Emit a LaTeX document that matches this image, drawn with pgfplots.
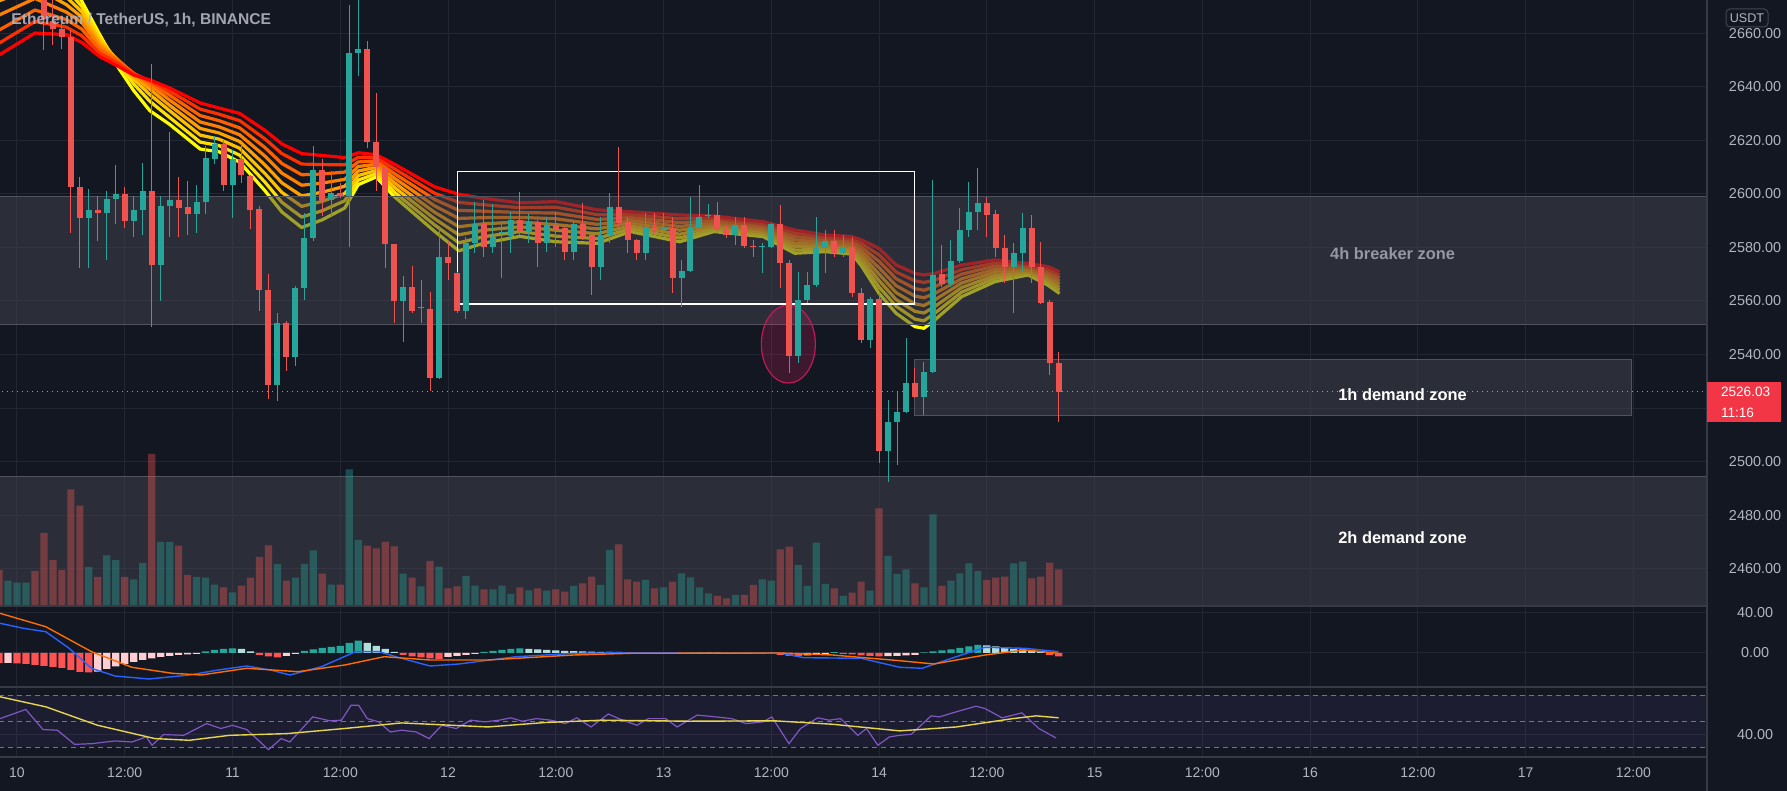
\documentclass[border=0pt]{standalone}
\usepackage{fontspec}
\setmainfont{Liberation Sans}
\usepackage{pgfplots}
\usepackage{pgfplotstable}
\pgfplotsset{compat=1.18}

\definecolor{bg}{HTML}{131722}
\definecolor{gridc}{HTML}{232734}
\definecolor{sepc}{HTML}{363A45}
\definecolor{zonec}{HTML}{434651}
\definecolor{zoneedge}{HTML}{50535E}
\definecolor{axtxt}{HTML}{B2B5BE}
\definecolor{zt4}{HTML}{9598A1}
\definecolor{cup}{HTML}{26A69A}
\definecolor{cdn}{HTML}{EF5350}
\definecolor{hupf}{HTML}{B2DFDB}
\definecolor{hdn}{HTML}{FF5252}
\definecolor{hdnf}{HTML}{FFCDD2}
\definecolor{macdc}{HTML}{2962FF}
\definecolor{sigc}{HTML}{FF6D00}
\definecolor{rsic}{HTML}{7E57C2}
\definecolor{rsima}{HTML}{E6D64D}
\definecolor{ellc}{HTML}{E91E63}
\definecolor{ellb}{HTML}{C2185B}
\definecolor{tvred}{HTML}{F23645}
\definecolor{r1}{HTML}{FFFF00}
\definecolor{r2}{HTML}{FFE000}
\definecolor{r3}{HTML}{FFC000}
\definecolor{r4}{HTML}{FFA000}
\definecolor{r5}{HTML}{FF8000}
\definecolor{r6}{HTML}{FF6000}
\definecolor{r7}{HTML}{FF3000}
\definecolor{r8}{HTML}{FF0000}

% candles: hour index (0 = day 10, 00:00), open high low close
\pgfplotstableread{
t o h l c
8 2591.0 2601.9 2572.2 2593.9
10 2592.8 2601.2 2575.1 2598.0
11 2598.0 2610.6 2588.9 2599.8
13 2590.0 2599.0 2583.8 2593.9
14 2593.9 2611.4 2584.5 2600.9
16 2573.6 2599.0 2559.8 2595.4
17 2595.4 2623.0 2583.8 2597.6
20 2592.5 2603.4 2585.2 2596.8
21 2596.8 2617.9 2592.5 2613.5
22 2613.1 2621.5 2611.0 2618.6
24 2603.4 2616.4 2591.0 2612.8
29 2528.6 2555.5 2522.8 2551.8
31 2539.1 2565.6 2535.9 2564.9
32 2564.9 2592.8 2560.5 2583.5
33 2583.5 2617.9 2582.3 2608.9
35 2597.6 2608.5 2591.8 2600.2
37 2599.0 2670.6 2580.1 2652.7
38 2652.7 2676.0 2644.0 2653.9
43 2559.8 2569.3 2544.6 2565.2
45 2557.2 2567.8 2551.8 2557.8
47 2531.2 2588.1 2530.8 2576.5
50 2556.2 2583.8 2553.3 2581.6
51 2581.6 2596.8 2578.0 2588.9
53 2580.1 2596.1 2578.0 2583.8
54 2585.2 2589.6 2568.5 2585.6
55 2584.1 2593.2 2578.0 2590.3
57 2586.0 2592.5 2581.6 2589.6
59 2581.5 2591.4 2578.4 2588.3
62 2578.4 2589.6 2575.3 2588.7
65 2572.8 2591.5 2567.8 2584.6
66 2584.6 2600.2 2581.5 2594.9
70 2578.0 2592.7 2575.3 2587.7
72 2586.5 2592.7 2585.2 2587.1
74 2568.4 2575.3 2557.9 2571.3
75 2571.3 2598.9 2570.9 2587.1
76 2587.1 2603.3 2586.5 2591.5
77 2591.6 2596.2 2590.8 2592.0
80 2584.6 2591.5 2580.9 2588.3
83 2580.2 2581.5 2570.3 2580.6
84 2580.3 2589.0 2579.6 2588.7
87 2539.4 2570.9 2536.7 2560.3
88 2560.3 2570.9 2559.1 2565.9
89 2565.9 2591.4 2565.3 2579.6
90 2579.6 2586.5 2570.3 2582.5
92 2577.8 2584.6 2576.5 2580.3
95 2545.4 2561.6 2542.3 2560.6
97 2504.1 2523.0 2492.5 2514.9
98 2514.9 2526.1 2498.8 2518.7
99 2518.7 2546.0 2518.0 2529.5
101 2524.3 2537.3 2517.4 2533.6
102 2533.6 2605.1 2533.0 2569.7
104 2566.3 2582.7 2565.3 2575.0
105 2575.0 2594.6 2574.0 2586.5
106 2586.5 2604.5 2584.0 2593.3
107 2593.3 2609.5 2586.5 2596.7
111 2572.8 2581.5 2555.4 2577.8
112 2577.8 2592.7 2570.9 2587.1
}\candup

\pgfplotstableread{
t o h l c
3 2678.0 2682.0 2653.5 2665.1
4 2664.4 2674.0 2655.6 2661.5
5 2661.5 2663.6 2654.2 2658.5
6 2658.5 2661.0 2585.2 2602.6
7 2602.6 2606.3 2572.2 2591.0
9 2593.9 2599.0 2582.3 2592.9
12 2599.8 2602.6 2587.4 2590.0
15 2600.9 2648.4 2550.4 2573.6
18 2597.6 2606.3 2583.8 2594.7
19 2595.1 2604.8 2584.5 2592.5
23 2618.6 2620.1 2601.2 2603.4
25 2612.8 2618.6 2604.1 2607.0
26 2606.7 2607.0 2586.7 2593.9
27 2594.4 2595.4 2556.2 2564.2
28 2564.2 2570.0 2523.5 2528.6
30 2551.8 2552.6 2533.7 2539.1
34 2608.9 2612.8 2591.8 2597.6
36 2600.2 2604.1 2598.3 2599.0
39 2653.9 2657.1 2617.2 2619.3
40 2619.3 2637.5 2601.2 2609.9
41 2609.9 2610.0 2572.2 2581.2
42 2581.2 2581.3 2551.8 2559.8
44 2565.2 2572.9 2555.5 2556.2
46 2556.9 2563.5 2526.4 2531.2
48 2576.5 2582.3 2567.8 2574.3
49 2570.4 2570.7 2555.5 2556.2
52 2588.9 2597.6 2576.5 2580.1
56 2590.3 2600.5 2584.5 2586.0
58 2589.6 2590.2 2572.8 2581.5
60 2588.3 2593.3 2580.3 2586.5
61 2587.1 2587.7 2575.3 2578.4
63 2588.7 2596.4 2582.7 2584.0
64 2584.6 2585.2 2562.2 2572.8
67 2594.9 2617.6 2587.7 2589.0
68 2589.6 2591.5 2577.8 2582.7
69 2582.7 2583.0 2575.3 2578.0
71 2587.1 2592.7 2585.2 2586.5
73 2587.1 2591.5 2562.8 2568.4
78 2592.1 2597.0 2585.2 2586.5
79 2586.5 2588.3 2583.4 2584.6
81 2588.3 2591.5 2579.6 2580.6
82 2580.6 2582.7 2576.5 2580.2
85 2588.7 2595.8 2564.7 2574.0
86 2574.0 2575.3 2533.0 2539.4
91 2582.5 2586.5 2576.5 2577.8
93 2580.3 2584.0 2561.6 2563.1
94 2563.1 2564.7 2544.2 2545.4
96 2560.6 2562.8 2499.4 2504.1
100 2529.5 2534.8 2523.6 2524.3
103 2570.0 2580.9 2565.3 2566.3
108 2596.7 2598.9 2584.0 2592.1
109 2592.5 2593.9 2576.5 2579.6
110 2579.6 2584.6 2566.6 2572.8
113 2587.1 2592.1 2566.6 2572.8
114 2572.8 2582.1 2559.1 2559.3
115 2559.7 2560.3 2532.4 2536.7
116 2536.7 2541.1 2515.0 2526.03
}\canddn

% EMA ribbon, fastest (e1) to slowest (e8)
\pgfplotstableread{
t e1 e2 e3 e4 e5 e6 e7 e8
-2 2687 2682 2677 2672 2666.7 2661.1 2656.2 2651.8
2 2690 2685.7 2681.4 2677.1 2672.9 2668.6 2664.3 2660
5.5 2680 2676.5 2673.4 2670.6 2667.8 2665 2662.2 2659.4
7.2 2672 2670 2668 2666 2664 2661.5 2659 2656.5
9.2 2659.5 2658.6 2657.4 2656.2 2655 2653.8 2652.5 2651.2
11.3 2647 2648.5 2649.5 2649.8 2649.8 2649.5 2648.6 2647.5
13 2638.5 2641 2642.8 2644 2644.8 2645 2644.8 2644.3
14.8 2631 2634.5 2637 2639 2640.5 2641.5 2642.2 2642.5
17 2625.9 2628.5 2631 2633 2635 2636.8 2638.3 2639.5
20.4 2616.7 2619.3 2621.9 2624.4 2626.8 2629.2 2631.6 2633.9
22.5 2615.7 2618.0 2620.4 2622.7 2625.0 2627.3 2629.7 2632.0
24.8 2611.8 2614.4 2617.0 2619.5 2622.0 2624.6 2627.3 2630.0
27.6 2601.2 2604.4 2607.6 2610.8 2614.1 2617.3 2620.5 2623.7
29.5 2593.2 2596.8 2600.5 2604.1 2607.7 2611.3 2615.0 2618.6
31.7 2587.4 2591.3 2595.3 2599.2 2603.2 2607.1 2611.1 2615.0
34 2590.3 2593.7 2597.2 2600.6 2604.0 2607.4 2610.9 2614.3
36.5 2594.7 2597.4 2600.1 2602.8 2605.4 2608.1 2610.8 2613.5
38 2603.4 2605.1 2606.8 2608.5 2610.2 2611.9 2613.6 2615.3
40 2606.3 2607.5 2608.7 2609.9 2611.0 2612.2 2613.4 2614.6
42 2599.0 2600.7 2602.5 2604.2 2605.9 2607.6 2609.4 2611.1
44 2593.2 2595.2 2597.2 2599.2 2601.3 2603.3 2605.3 2607.3
46.5 2586.0 2588.4 2590.7 2593.1 2595.5 2597.9 2600.2 2602.6
49.2 2578.7 2581.7 2584.7 2587.7 2590.8 2593.8 2596.8 2599.8
52 2581.6 2584.0 2586.4 2588.8 2591.1 2593.5 2595.9 2598.3
56 2584.1 2585.9 2587.7 2589.5 2591.2 2593.0 2594.8 2596.6
60 2582.1 2584.2 2586.4 2588.5 2590.7 2592.8 2595.0 2597.1
64.6 2581.5 2583.3 2585.1 2586.9 2588.6 2590.4 2592.2 2594.0
68.3 2585.9 2587.0 2588.0 2589.1 2590.1 2591.2 2592.2 2593.3
73.8 2582.1 2583.5 2584.9 2586.4 2587.8 2589.2 2590.7 2592.1
77.6 2585.9 2586.7 2587.6 2588.4 2589.2 2590.0 2590.9 2591.7
83.1 2584.0 2584.8 2585.6 2586.4 2587.2 2588.0 2588.8 2589.6
86.6 2577.8 2579.0 2580.3 2581.5 2582.8 2584.0 2585.3 2586.5
90 2578.4 2579.3 2580.2 2581.1 2581.9 2582.8 2583.7 2584.6
93 2577.5 2578.4 2579.4 2580.3 2581.2 2582.1 2583.1 2584.0
94.1 2572.8 2574.2 2575.6 2577.0 2578.5 2579.9 2581.3 2582.7
96 2562.8 2565.2 2567.6 2570.0 2572.4 2574.8 2577.2 2579.6
97.9 2555.4 2558.0 2560.5 2563.1 2565.7 2568.3 2570.8 2573.4
100 2550.4 2553.2 2556.1 2558.9 2561.8 2564.6 2567.5 2570.3
101 2549.8 2552.6 2555.5 2558.3 2561.2 2564.0 2566.9 2569.7
102.2 2552.9 2555.4 2557.9 2560.4 2562.8 2565.3 2567.8 2570.3
105.2 2561.6 2563.3 2565.0 2566.7 2568.3 2570.0 2571.7 2573.4
108.9 2567.2 2568.4 2569.5 2570.7 2571.8 2573.0 2574.1 2575.3
112.6 2569.7 2570.3 2570.9 2571.5 2572.2 2572.8 2573.4 2574.0
114.8 2565.9 2566.9 2567.9 2568.9 2569.8 2570.8 2571.8 2572.8
116.1 2562.8 2564.0 2565.1 2566.3 2567.4 2568.6 2569.7 2570.9
}\ribbon

% volume (bar height in screen pixels)
\pgfplotstableread{
t v
-1 24.3
0 22.4
1 22.4
8 37.9
10 49.6
11 44.9
13 25.5
14 41.8
16 63.2
17 63.2
20 28
21 27.4
22 20.4
24 12.6
29 41
31 27.4
32 41
33 54.6
35 20.4
37 135.5
38 65.1
43 31.3
45 18.5
47 38.3
50 29.2
51 19.4
53 15.6
54 19.4
55 11.1
57 14.6
59 14.3
62 19
65 20
66 55
70 25
72 17.7
74 31.7
75 27.7
76 17.7
77 11.7
80 10
83 25.7
84 24.3
87 40
88 19
89 62.3
90 21
92 9
95 14.3
97 49
98 31
99 35.7
101 17.7
102 90.7
104 24.3
105 31.7
106 41.7
107 34
111 41.7
112 43.3
}\volup

\pgfplotstableread{
t v
-2 35.2
2 34
3 72.1
4 44.9
5 35.2
6 115.7
7 99.4
9 28
12 28
15 151.1
18 59.3
19 30.1
23 17.7
25 19.4
26 27.4
27 48
28 59.7
30 24.3
34 31.3
36 20.4
39 59.3
40 56.6
41 63.2
42 58.5
44 27.4
46 44.1
48 16.5
49 18.5
52 15.6
56 17.7
58 16.7
60 15.7
61 13.3
63 21.7
64 28.3
67 60.7
68 25.7
69 23.3
71 16.7
73 23.3
78 9
79 6.7
81 10
82 20
85 55.7
86 58.3
91 16.7
93 12.3
94 23.3
96 96.7
100 21.7
103 19
108 25
109 27.3
110 28.3
113 26.7
114 28.3
115 42.3
116 35.7
}\voldn

% MACD histogram, four colours
\pgfplotstableread{
t v
21 1.5
22 3
23 4
24 4.7
32 2
33 3.5
34 5
35 6
36 7
37 10
38 12.3
52 1
53 2
54 3
55 4
56 4.5
66 1.4
70 0.7
72 0.6
75 0.5
76 0.8
80 0.4
84 0.5
91 0.8
101 0.5
102 1.5
103 2.5
104 3.5
105 5
106 6.5
107 8
}\hup

\pgfplotstableread{
t v
25 4
26 1.5
39 10
40 7
41 4
42 1
57 4
58 3.5
59 3
60 2.5
61 2
62 1.8
63 1.5
64 1.3
65 1.2
67 1.0
68 0.8
69 0.6
71 0.5
77 0.7
78 0.5
108 7.5
109 6.5
110 5
111 4
112 3.5
113 3
114 1.5
}\hupf

\pgfplotstableread{
t v
-2 -10
0 -10.5
1 -11
2 -12
3 -13
4 -14
5 -15
6 -17
7 -19
8 -19.5
27 -2
28 -3.5
29 -4.5
43 -2
44 -3.5
45 -4.5
46 -5.5
47 -6
73 -0.5
74 -0.6
79 -0.4
81 -0.5
82 -0.8
85 -2
86 -3
87 -3.2
92 -0.8
93 -1.5
94 -2.5
95 -3
96 -3.5
115 -2
116 -3.5
}\hdn

\pgfplotstableread{
t v
-1 -10
9 -18.7
10 -16
11 -13.5
12 -11
13 -9
14 -7
15 -5.5
16 -4
17 -3
18 -2
19 -1.5
20 -1
30 -3
31 -1
48 -4
49 -3
50 -2
51 -1
83 -0.6
88 -2.5
89 -1.8
90 -1
97 -3.2
98 -3
99 -2.5
100 -2
}\hdnf

\begin{document}
\begin{tikzpicture}
\useasboundingbox (0,0) rectangle (893.5pt,395.5pt);
\fill[bg] (0,0) rectangle (893.5pt,395.5pt);

\pgfplotsset{
  tvpanel/.style={
    scale only axis, width=853.5pt, anchor=south west,
    xmin=-1.893, xmax=188.2,
    axis line style={draw=none}, tick style={draw=none}, major tick length=0pt,
    xtick={0,12,...,180}, xticklabels={},
    grid=major, major grid style={draw=gridc, line width=0.5pt},
    yticklabel pos=right,
    yticklabel style={font=\fontsize{7.2}{8}\selectfont, text=axtxt, anchor=center, xshift=24pt},
  },
}

% ---------- price panel ----------
\begin{axis}[tvpanel, at={(0pt,93pt)}, height=302.5pt,
  ymin=2446.51, ymax=2672.34,
  ytick={2460,2480,2500,2520,2540,2560,2580,2600,2620,2640,2660},
  yticklabels={2460.00,2480.00,2500.00,{},2540.00,2560.00,2580.00,2600.00,2620.00,2640.00,2660.00}]
  \addplot[r1, line width=1.6pt, line join=round] table[x=t, y=e1] \ribbon;
  \addplot[r2, line width=1.6pt, line join=round] table[x=t, y=e2] \ribbon;
  \addplot[r3, line width=1.6pt, line join=round] table[x=t, y=e3] \ribbon;
  \addplot[r4, line width=1.6pt, line join=round] table[x=t, y=e4] \ribbon;
  \addplot[r5, line width=1.6pt, line join=round] table[x=t, y=e5] \ribbon;
  \addplot[r6, line width=1.6pt, line join=round] table[x=t, y=e6] \ribbon;
  \addplot[r7, line width=1.6pt, line join=round] table[x=t, y=e7] \ribbon;
  \addplot[r8, line width=1.6pt, line join=round] table[x=t, y=e8] \ribbon;

  % zones
  \fill[zonec, fill opacity=0.5] (axis cs:-5,2551.3) rectangle (axis cs:200,2599);
  \draw[zoneedge, line width=0.5pt] (axis cs:-5,2599) -- (axis cs:200,2599);
  \draw[zoneedge, line width=0.5pt] (axis cs:-5,2551.3) -- (axis cs:200,2551.3);
  \fill[zonec, fill opacity=0.5] (axis cs:-5,2430) rectangle (axis cs:200,2494.4);
  \draw[zoneedge, line width=0.5pt] (axis cs:-5,2494.4) -- (axis cs:200,2494.4);
  \fill[zonec, fill opacity=0.5] (axis cs:99.95,2517.3) rectangle (axis cs:179.8,2538.2);
  \draw[zoneedge, line width=0.5pt] (axis cs:99.95,2517.3) rectangle (axis cs:179.8,2538.2);

  \draw[ellb, line width=0.6pt, fill=ellc, fill opacity=0.2] (axis cs:85.9,2543.9) ellipse [x radius=13.5pt, y radius=19.5pt];
  \draw[white, line width=0.7pt] (axis cs:49.08,2558.9) rectangle (axis cs:99.95,2608.3);
  \draw[white!55!tvred, dotted, line width=0.5pt, opacity=0.8] (axis cs:-5,2526.03) -- (axis cs:200,2526.03);

  % wicks
  \addplot[draw=none, mark=none, error bars/.cd, y dir=both, y explicit, error mark=none,
    error bar style={draw=cup, line width=0.5pt}]
    table[x=t, y=c, y error plus expr=\thisrow{h}-\thisrow{c}, y error minus expr=\thisrow{c}-\thisrow{l}] \candup;
  \addplot[draw=none, mark=none, error bars/.cd, y dir=both, y explicit, error mark=none,
    error bar style={draw=cdn, line width=0.5pt}]
    table[x=t, y=c, y error plus expr=\thisrow{h}-\thisrow{c}, y error minus expr=\thisrow{c}-\thisrow{l}] \canddn;
  % bodies
  \addplot[draw=none, mark=none, error bars/.cd, y dir=plus, y explicit, error mark=none,
    error bar style={draw=cup, line width=3pt}]
    table[x=t, y=o, y error plus expr=\thisrow{c}-\thisrow{o}] \candup;
  \addplot[draw=none, mark=none, error bars/.cd, y dir=plus, y explicit, error mark=none,
    error bar style={draw=cdn, line width=3pt}]
    table[x=t, y=c, y error plus expr=\thisrow{o}-\thisrow{c}] \canddn;
\end{axis}

% ---------- volume overlay ----------
\begin{axis}[scale only axis, width=853.5pt, height=302.5pt, anchor=south west, at={(0pt,93pt)},
  xmin=-1.893, xmax=188.2, ymin=0, ymax=605, hide axis]
  \addplot[ybar, bar width=3.6pt, bar shift=0pt, draw=none, fill=cup, fill opacity=0.38] table[x=t, y=v] \volup;
  \addplot[ybar, bar width=3.6pt, bar shift=0pt, draw=none, fill=cdn, fill opacity=0.38] table[x=t, y=v] \voldn;
\end{axis}

% ---------- MACD panel ----------
\begin{axis}[tvpanel, at={(0pt,52pt)}, height=40.5pt,
  ymin=-34, ymax=47, ytick={0,40}, yticklabels={0.00,40.00}]
  \addplot[ybar, bar width=3.6pt, bar shift=0pt, draw=none, fill=cup] table[x=t, y=v] \hup;
  \addplot[ybar, bar width=3.6pt, bar shift=0pt, draw=none, fill=hupf] table[x=t, y=v] \hupf;
  \addplot[ybar, bar width=3.6pt, bar shift=0pt, draw=none, fill=hdn] table[x=t, y=v] \hdn;
  \addplot[ybar, bar width=3.6pt, bar shift=0pt, draw=none, fill=hdnf] table[x=t, y=v] \hdnf;
  \addplot[macdc, line width=0.7pt] coordinates {
    (-1.9,29.7) (0.7,24.7) (3.2,21.3) (5.8,4.7) (8.3,-15.3) (10.9,-23) (14.7,-26)
    (19.2,-22) (22.4,-17) (25.6,-13) (28.2,-17) (30.4,-22) (33.9,-13.7) (37.7,1.3)
    (40.3,1.3) (42.8,-5.3) (46.0,-13) (49.2,-11) (55.6,-3.7) (62.0,-0.3) (68.4,0.3)
    (74.8,0) (85.0,0) (87.6,-4.7) (94.0,-5.3) (98.3,-14.3) (100.8,-15.3) (104.6,-3.7)
    (107.8,5.7) (112.2,4.7) (116,1.3)};
  \addplot[sigc, line width=0.7pt] coordinates {
    (-1.9,39.7) (3.2,26.3) (8.3,1.3) (12.8,-14.3) (17.3,-20.3) (20.5,-22) (25.6,-15.3)
    (31.3,-18.7) (36.5,-12) (40.9,-3.7) (46.0,-7) (52.4,-7) (62.0,-2) (68.4,-0.3)
    (85.0,0) (90.8,-2) (98.3,-7.7) (102.1,-11) (107.8,-2) (112.2,3) (116,-0.3)};
\end{axis}

% ---------- RSI panel ----------
\begin{axis}[tvpanel, at={(0pt,17pt)}, height=35pt,
  ymin=22.6, ymax=76.2, ytick={40}, yticklabels={40.00},
  xticklabels={10,12:00,11,12:00,12,12:00,13,12:00,14,12:00,15,12:00,16,12:00,17,12:00},
  xticklabel style={font=\fontsize{7}{8}\selectfont, text=axtxt, anchor=center, yshift=-8pt}]
  \fill[rsic, fill opacity=0.1] (axis cs:-5,30) rectangle (axis cs:200,70);
  \draw[axtxt!60!bg, line width=0.5pt, dash pattern=on 2.5pt off 2pt] (axis cs:-5,70) -- (axis cs:200,70);
  \draw[axtxt!60!bg, line width=0.5pt, dash pattern=on 2.5pt off 2pt] (axis cs:-5,50) -- (axis cs:200,50);
  \draw[axtxt!60!bg, line width=0.5pt, dash pattern=on 2.5pt off 2pt] (axis cs:-5,30) -- (axis cs:200,30);
  \addplot[rsic, line width=0.6pt] coordinates {
    (-1.89,52.0) (0.98,59.0) (2.90,43.6) (4.50,43.1) (6.41,32.3) (8.33,32.8) (10.89,34.9)
    (12.80,34.1) (14.40,38.0) (15.04,31.6) (16.32,39.8) (18.56,39.2) (21.11,48.2)
    (22.71,44.4) (23.99,46.9) (25.58,43.6) (28.01,28.2) (29.42,36.7) (30.38,34.1)
    (32.93,53.3) (34.85,50.3) (36.13,50.8) (37.21,62.3) (38.04,62.3) (39.00,52.0)
    (40.28,49.5) (41.56,41.8) (42.84,43.1) (44.43,41.8) (45.90,36.7) (47.31,46.9)
    (48.91,44.4) (50.51,50.8) (52.10,49.5) (53.70,50.8) (54.98,52.6) (56.26,50.0)
    (57.85,52.0) (59.45,50.8) (61.05,48.2) (62.33,52.6) (63.92,45.6) (65.84,55.5)
    (67.44,50.8) (69.04,46.9) (70.31,52.0) (72.23,52.0) (73.51,45.6) (75.75,54.7)
    (77.66,53.4) (79.58,52.0) (81.18,48.2) (83.09,49.5) (84.05,53.3) (85.97,32.8)
    (87.25,44.4) (89.17,52.6) (90.44,50.8) (91.72,52.0) (93.64,39.2) (94.60,44.4)
    (95.87,31.6) (97.15,38.0) (98.30,39.2) (99.59,40.0) (101.8,54.1) (102.7,53.3)
    (104.6,57.2) (106.8,61.5) (107.8,59.7) (109.7,52.6) (111.9,56.4) (113.8,44.4)
    (115.7,37.2)};
  \addplot[rsima, line width=0.7pt] coordinates {
    (-1.89,68.7) (3.22,61.0) (8.97,46.9) (15.36,36.7) (19.19,35.4) (23.67,39.2)
    (30.06,40.5) (36.45,44.4) (42.84,48.7) (52.42,45.6) (58.81,49.0) (65.20,50.8)
    (74.79,50.0) (84.37,50.3) (90.76,47.7) (98.30,42.6) (104.6,45.6) (110.9,52.0)
    (113.5,54.1) (116,52.6)};
\end{axis}

% ---------- separators and overlays ----------
\draw[sepc, line width=1pt] (0,92.5pt) -- (853.5pt,92.5pt);
\draw[sepc, line width=1pt] (0,52pt) -- (853.5pt,52pt);
\draw[sepc, line width=1pt] (0,17pt) -- (853.5pt,17pt);
\draw[sepc, line width=0.8pt] (853.5pt,0) -- (853.5pt,395.5pt);

\node[anchor=west, inner sep=0pt, text=axtxt, text opacity=0.9, font=\bfseries\fontsize{7.8}{9}\selectfont]
  at (5.5pt,385.3pt) {Ethereum / TetherUS, 1h, BINANCE};

\node[inner sep=0pt, text=zt4, font=\bfseries\fontsize{8.2}{9}\selectfont] at (696.3pt,268.5pt) {4h breaker zone};
\node[inner sep=0pt, text=white, font=\bfseries\fontsize{8.2}{9}\selectfont] at (701.3pt,198.4pt) {1h demand zone};
\node[inner sep=0pt, text=white, font=\bfseries\fontsize{8.2}{9}\selectfont] at (701.3pt,126.9pt) {2h demand zone};

\fill[tvred] (853.5pt,184.5pt) rectangle (890.5pt,204.5pt);
\node[anchor=west, inner sep=0pt, text=white, font=\fontsize{6.8}{7}\selectfont] at (860.3pt,199.6pt) {2526.03};
\node[anchor=west, inner sep=0pt, text=white, font=\fontsize{6.8}{7}\selectfont] at (860.3pt,189.0pt) {11:16};

\draw[rounded corners=2pt, draw=zonec, fill=bg, line width=0.5pt] (863pt,382pt) rectangle (884pt,391pt);
\node[inner sep=0pt, text=axtxt, font=\fontsize{6.3}{7}\selectfont] at (873.5pt,386.5pt) {USDT};
\end{tikzpicture}
\end{document}
